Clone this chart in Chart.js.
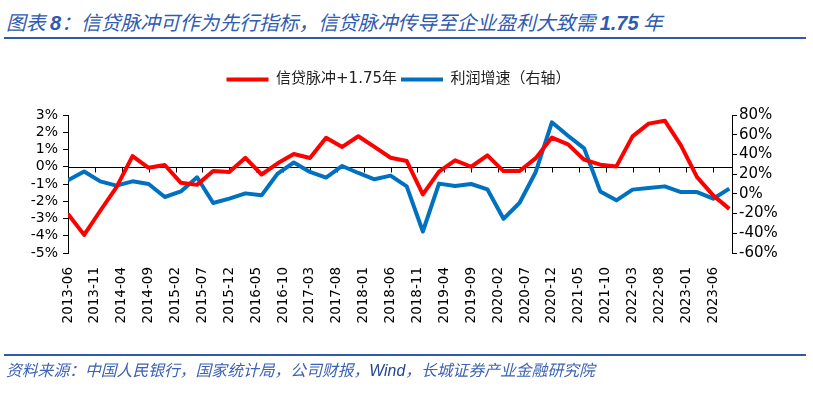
<!DOCTYPE html>
<html lang="zh">
<head>
  <meta charset="UTF-8">
  <title>信贷脉冲与利润增速</title>
  <script src="https://cdn.jsdelivr.net/npm/chart.js"></script>
  <style>
    body {
      margin: 0;
      background: #fff;
      width: 813px;
      height: 399px;
      position: relative;
      overflow: hidden;
    }
    #chart {
      position: absolute;
      left: 0;
      top: 0;
    }
    .title {
      position: absolute;
      left: 6px;
      top: 7px;
      font-family: "Noto Sans CJK SC", sans-serif;
      font-style: italic;
      font-size: 19.8px;
      color: #2f5bb0;
      white-space: nowrap;
    }
    .title b { font-family: "Liberation Sans", sans-serif; font-weight: bold; font-size: 20px; }
    .rule {
      position: absolute;
      left: 4px;
      width: 802px;
      height: 2px;
      background: #2e5aa8;
    }
    .source {
      position: absolute;
      left: 6px;
      top: 358px;
      font-family: "Noto Sans CJK SC", sans-serif;
      font-style: italic;
      font-size: 15.8px;
      color: #3c62b3;
      white-space: nowrap;
    }
    .source b { font-family: "Liberation Sans", sans-serif; font-weight: normal; color: #1f4595; }
  </style>
</head>
<body>
  <div class="title">图表 <b>8</b>：信贷脉冲可作为先行指标，信贷脉冲传导至企业盈利大致需 <b>1.75</b> 年</div>
  <div class="rule" style="top:37px"></div>
  <canvas id="chart" width="813" height="399"></canvas>
  <div class="rule" style="top:354px"></div>
  <div class="source">资料来源：中国人民银行，国家统计局，公司财报，<b>Wind</b>，长城证券产业金融研究院</div>

  <script>
    // quarterly observations
    const dates = [
      '2013-06', '2013-09', '2013-12', '2014-03', '2014-06', '2014-09', '2014-12',
      '2015-03', '2015-06', '2015-09', '2015-12', '2016-03', '2016-06', '2016-09',
      '2016-12', '2017-03', '2017-06', '2017-09', '2017-12', '2018-03', '2018-06',
      '2018-09', '2018-12', '2019-03', '2019-06', '2019-09', '2019-12', '2020-03',
      '2020-06', '2020-09', '2020-12', '2021-03', '2021-06', '2021-09', '2021-12',
      '2022-03', '2022-06', '2022-09', '2022-12', '2023-03', '2023-06', '2023-09'
    ];

    // 信贷脉冲 +1.75年 (%, left axis)
    const creditImpulse = [
      -2.73, -3.95, -2.55, -1.2, 0.62, -0.06, 0.10, -0.93, -1.05, -0.25,
      -0.30, 0.52, -0.45, 0.20, 0.74, 0.51, 1.68, 1.15, 1.77, 1.15,
      0.52, 0.33, -1.60, -0.28, 0.37, 0.00, 0.66, -0.25, -0.25, 0.50,
      1.69, 1.30, 0.41, 0.12, 0.02, 1.76, 2.50, 2.67, 1.24, -0.60,
      -1.66, -2.44
    ];

    // 利润增速 (%, right axis)
    const profitGrowth = [
      13.8, 22.6, 12.7, 8.3, 12.7, 10.0, -3.2, 2.5, 16.8, -9.3,
      -4.9, 0.5, -1.5, 20.6, 31.8, 22.2, 16.5, 28.3, 21.2, 14.8,
      18.5, 7.6, -38.2, 10.4, 8.0, 10.0, 4.6, -25.3, -9.0, 22.2,
      72.6, 58.9, 46.1, 2.5, -6.6, 4.3, 5.9, 7.6, 1.8, 1.8,
      -4.9, 5.3
    ];

    const xTickLabels = [
      '2013-06', '2013-11', '2014-04', '2014-09', '2015-02', '2015-07', '2015-12',
      '2016-05', '2016-10', '2017-03', '2017-08', '2018-01', '2018-06', '2018-11',
      '2019-04', '2019-09', '2020-02', '2020-07', '2020-12', '2021-05', '2021-10',
      '2022-03', '2022-08', '2023-01', '2023-06'
    ];

    const seriesNames = ['信贷脉冲+1.75年', '利润增速（右轴）'];
    const seriesColors = ['#ff0000', '#0070c0'];

    // month offset from the first date, so the x axis works like a date axis
    function monthIndex(s) {
      const [yy, mm] = s.split('-').map(Number);
      return (yy - 2013) * 12 + (mm - 6);
    }
    function monthLabel(v) {
      const total = 2013 * 12 + 5 + v;
      const yy = Math.floor(total / 12);
      const mm = total % 12 + 1;
      return yy + '-' + String(mm).padStart(2, '0');
    }

    const font = 'DejaVu Sans, "Noto Sans CJK SC", sans-serif';

    // horizontal axis line through 0 with downward tick marks
    const zeroAxis = {
      id: 'zeroAxis',
      beforeDatasetsDraw(chart) {
        const { ctx, chartArea, scales } = chart;
        const y0 = Math.round(scales.y.getPixelForValue(0)) + 0.5;
        ctx.save();
        ctx.strokeStyle = '#000';
        ctx.lineWidth = 1;
        ctx.beginPath();
        ctx.moveTo(chartArea.left, y0);
        ctx.lineTo(chartArea.right, y0);
        scales.x.ticks.forEach(t => {
          const px = Math.round(scales.x.getPixelForValue(t.value)) + 0.5;
          ctx.moveTo(px, y0);
          ctx.lineTo(px, y0 + 5);
        });
        ctx.stroke();
        ctx.restore();
      }
    };

    new Chart(document.getElementById('chart'), {
      type: 'line',
      data: {
        datasets: [
          {
            label: seriesNames[0],
            data: dates.map((d, i) => ({ x: monthIndex(d), y: creditImpulse[i] })),
            borderColor: seriesColors[0],
            backgroundColor: seriesColors[0],
            pointBorderColor: seriesColors[0],
            pointBorderWidth: 4,
            xAxisID: 'x',
            yAxisID: 'y'
          },
          {
            label: seriesNames[1],
            data: dates.map((d, i) => ({ x: monthIndex(d), y: profitGrowth[i] })),
            borderColor: seriesColors[1],
            backgroundColor: seriesColors[1],
            pointBorderColor: seriesColors[1],
            pointBorderWidth: 4,
            xAxisID: 'x',
            yAxisID: 'y1'
          }
        ]
      },
      options: {
        responsive: false,
        animation: false,
        layout: { padding: { left: 0, right: 16, top: 68, bottom: 0 } },
        elements: {
          line: { borderWidth: 4, tension: 0, borderJoinStyle: 'round', borderCapStyle: 'butt' },
          point: { radius: 0 }
        },
        plugins: {
          tooltip: { enabled: false },
          legend: {
            position: 'top',
            labels: {
              usePointStyle: true,
              pointStyle: 'line',
              pointStyleWidth: 42,
              padding: 4,
              color: '#222',
              font: { family: font, size: 15 }
            }
          }
        },
        scales: {
          x: {
            type: 'linear',
            min: 0,
            max: 123.5,
            afterBuildTicks: s => { s.ticks = xTickLabels.map(l => ({ value: monthIndex(l) })); },
            afterFit: s => { s.height = 146; },
            grid: { display: false },
            border: { display: false },
            ticks: {
              autoSkip: false,
              minRotation: 90,
              maxRotation: 90,
              padding: 6,
              color: '#000',
              font: { family: font, size: 13.5 },
              callback: v => monthLabel(v)
            }
          },
          // empty band between legend and plot
          gap: {
            type: 'linear',
            axis: 'x',
            position: 'top',
            min: 0,
            max: 1,
            afterFit: s => { s.height = 18; },
            grid: { display: false },
            border: { display: false },
            ticks: { display: false }
          },
          y: {
            position: 'left',
            min: -5,
            max: 3,
            afterFit: s => { s.width = 68; },
            grid: { drawOnChartArea: false, tickLength: 5, color: '#000' },
            border: { color: '#000', width: 1 },
            ticks: {
              stepSize: 1,
              autoSkip: false,
              padding: 5,
              color: '#000',
              font: { family: font, size: 14 },
              callback: v => v + '%'
            }
          },
          y1: {
            position: 'right',
            min: -60,
            max: 80,
            afterFit: s => { s.width = 65; },
            grid: { drawOnChartArea: false, tickLength: 5, color: '#000' },
            border: { color: '#000', width: 1 },
            ticks: {
              stepSize: 20,
              autoSkip: false,
              padding: 2,
              color: '#000',
              font: { family: font, size: 15 },
              callback: v => v + '%'
            }
          }
        }
      },
      plugins: [zeroAxis]
    });
  </script>
</body>
</html>
